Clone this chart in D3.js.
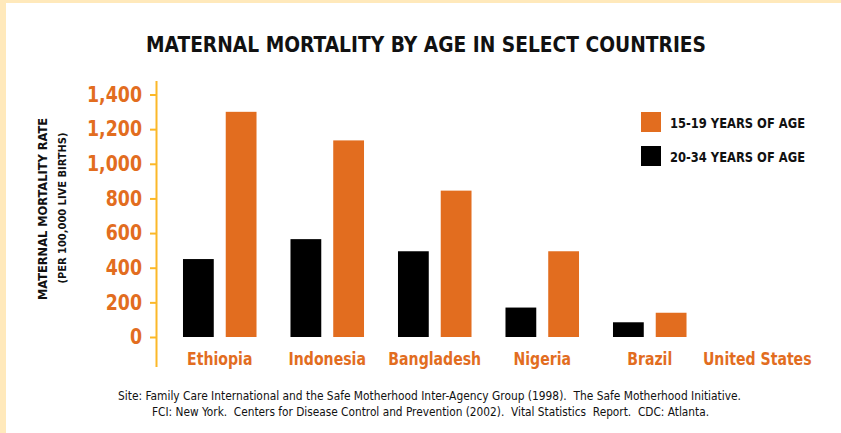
<!DOCTYPE html>
<meta charset="utf-8">
<style>
  body { margin: 0; background: #fff; }
  text { font-family: "DejaVu Sans Condensed", "DejaVu Sans", sans-serif; white-space: pre; }
</style>
<body>
<script src="https://cdn.jsdelivr.net/npm/d3@7"></script>
<script>
var countries = ["Ethiopia", "Indonesia", "Bangladesh", "Nigeria", "Brazil", "United States"];
var series = ["20-34", "15-19"];
var adult = [450, 565, 495, 170, 85, 0];
var teen = [1300, 1135, 845, 495, 140, 0];
var yTicks = [0, 200, 400, 600, 800, 1000, 1200, 1400];
var legendLabels = ["15-19 YEARS OF AGE", "20-34 YEARS OF AGE"];

var W = 841, H = 433;
var orange = "#e26d1f", gold = "#fbb829";

// squeeze text to look like the narrow face in the original
function squeeze(sel, f) {
  sel.each(function() {
    var n = this.getComputedTextLength();
    d3.select(this).attr("textLength", n * f).attr("lengthAdjust", "spacingAndGlyphs");
  });
}

var svg = d3.select("body").append("svg").attr("width", W).attr("height", H);

// cream frame on top and left
svg.append("rect").attr("x", 0).attr("y", 0).attr("width", W).attr("height", 3).attr("fill", "#ffe9bb");
svg.append("rect").attr("x", 0).attr("y", 0).attr("width", 6).attr("height", H).attr("fill", "#ffe9bb");

svg.append("text").attr("x", 146).attr("y", 52)
  .attr("font-size", 22).attr("font-weight", "bold").attr("fill", "#111")
  .attr("textLength", 560).attr("lengthAdjust", "spacingAndGlyphs")
  .text("MATERNAL MORTALITY BY AGE IN SELECT COUNTRIES");

var y = d3.scaleLinear().domain([0, 1400]).range([337, 94.5]);
var x0 = d3.scaleBand().domain(countries).range([166, 811]).paddingInner(0.316).paddingOuter(0.158);
var x1 = d3.scaleBand().domain(series).range([0, x0.bandwidth()]).paddingInner(0.28);

// axis line
svg.append("line").attr("x1", 156.5).attr("x2", 156.5).attr("y1", 81).attr("y2", 367)
  .attr("stroke", gold).attr("stroke-width", 2);

var yAxis = svg.append("g").attr("transform", "translate(156,0)")
  .call(d3.axisLeft(y).tickValues(yTicks).tickSize(6).tickPadding(8).tickFormat(d3.format(",")));
yAxis.select(".domain").remove();
yAxis.selectAll(".tick line").attr("stroke", gold).attr("stroke-width", 2);
yAxis.selectAll(".tick text").attr("fill", orange).attr("font-size", 21).attr("font-weight", "bold")
  .style("font-family", "\"DejaVu Sans Condensed\", sans-serif")
  .call(squeeze, 0.92);

var rows = countries.map(function(c, i) { return {c: c, v: {"20-34": adult[i], "15-19": teen[i]}}; });

var g = svg.append("g").selectAll("g").data(rows).enter().append("g")
  .attr("transform", function(d) { return "translate(" + x0(d.c) + ",0)"; });
g.selectAll("rect").data(function(d) { return series.map(function(s) { return {s: s, v: d.v[s]}; }); })
  .enter().append("rect")
  .attr("x", function(d) { return x1(d.s); })
  .attr("width", x1.bandwidth())
  .attr("y", function(d) { return y(d.v); })
  .attr("height", function(d) { return y(0) - y(d.v); })
  .attr("fill", function(d) { return d.s == "15-19" ? orange : "#000"; });

svg.append("g").selectAll("text").data(countries).enter().append("text")
  .attr("x", function(d) { return x0(d) + x0.bandwidth() / 2; })
  .attr("y", 365).attr("text-anchor", "middle")
  .attr("font-size", 18).attr("font-weight", "bold").attr("fill", orange)
  .text(function(d) { return d; })
  .call(squeeze, 0.87);

// y title
var yt = svg.append("g").attr("transform", "translate(47,209) rotate(-90)");
yt.append("text").attr("text-anchor", "middle").attr("font-size", 12.5).attr("font-weight", "bold")
  .attr("fill", "#111").attr("textLength", 182).attr("lengthAdjust", "spacingAndGlyphs")
  .text("MATERNAL MORTALITY RATE");
yt.append("text").attr("y", 19).attr("x", 1).attr("text-anchor", "middle").attr("font-size", 11).attr("font-weight", "bold")
  .attr("fill", "#111").attr("textLength", 151).attr("lengthAdjust", "spacingAndGlyphs")
  .text("(PER 100,000 LIVE BIRTHS)");

// legend
var lg = svg.append("g").selectAll("g").data(legendLabels).enter().append("g")
  .attr("transform", function(d, i) { return "translate(641," + (112 + i * 34) + ")"; });
lg.append("rect").attr("width", 20).attr("height", 20)
  .attr("fill", function(d, i) { return i == 0 ? orange : "#000"; });
lg.append("text").attr("x", 29).attr("y", 15.5).attr("font-size", 14.5).attr("font-weight", "bold")
  .attr("fill", "#111").attr("textLength", 135).attr("lengthAdjust", "spacingAndGlyphs")
  .text(function(d) { return d; });

// source note
var src = svg.append("g").attr("font-size", 12).attr("fill", "#111");
src.append("text").attr("x", 118).attr("y", 400)
  .attr("textLength", 623).attr("lengthAdjust", "spacingAndGlyphs")
  .text("Site: Family Care International and the Safe Motherhood Inter-Agency Group (1998).  The Safe Motherhood Initiative.");
src.append("text").attr("x", 152).attr("y", 416)
  .attr("textLength", 557).attr("lengthAdjust", "spacingAndGlyphs")
  .text("FCI: New York.  Centers for Disease Control and Prevention (2002).  Vital Statistics  Report.  CDC: Atlanta.");
</script>
</body>
